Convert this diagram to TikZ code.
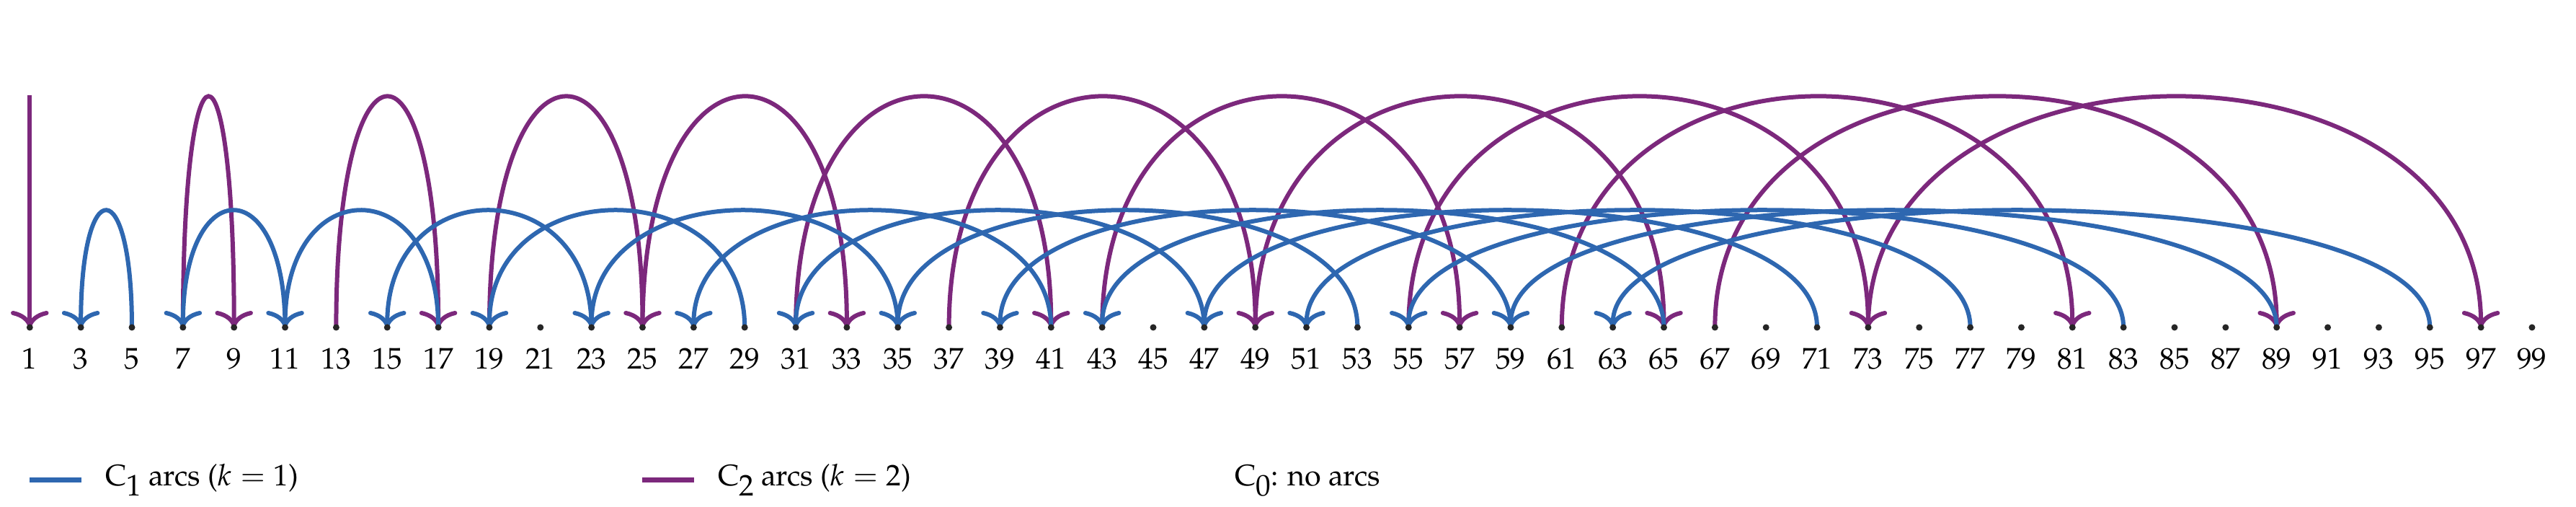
\documentclass[tikz,border=0pt]{standalone}
\usepackage[T1]{fontenc}
\usepackage{mathpazo}
\usetikzlibrary{arrows.meta}
\definecolor{cblue}{RGB}{46,103,176}
\definecolor{cpurple}{RGB}{124,40,124}
\newcommand{\lowsub}[1]{\raisebox{-0.33em}{#1}}
\tikzset{
  arcbase/.style={line width=0.12cm, -{Computer Modern Rightarrow[length=0.46cm,width=1.05cm]}},
  bluearc/.style={arcbase, draw=cblue},
  purplearc/.style={arcbase, draw=cpurple},
  numdot/.style={circle, fill=black!85, minimum size=0.18cm, inner sep=0pt},
  numlabel/.style={anchor=base, inner sep=0pt, font=\fontsize{23.5}{28}\selectfont},
  legline/.style={line width=0.14cm},
  legtext/.style={anchor=base west, inner sep=0pt, font=\fontsize{23.5}{28}\selectfont}
}
\begin{document}
\begin{tikzpicture}[x=1cm,y=1cm]
\useasboundingbox (0,0) rectangle (71.48,14.06);
% positions and labels
\foreach \n in {1,3,...,99} {
  \pgfmathsetmacro\xx{0.826+(\n-1)*0.70850}
  \coordinate (c\n) at (\xx,4.98);
  \node[numlabel] (l\n) at (\xx,3.82) {\n};
}
% C2 arcs (k=2)
\coordinate (top1) at (0.826,11.42);
\draw[purplearc] (top1) -- (c1);
\foreach \n in {9,17,...,97} {
  \pgfmathtruncatemacro\m{(3*\n+1)/4}
  \draw[purplearc] (c\m) .. controls +(0,8.53) and +(0,8.53) .. (c\n);
}
% C1 arcs (k=1)
\foreach \n in {3,7,...,63} {
  \pgfmathtruncatemacro\m{(3*\n+1)/2}
  \draw[bluearc] (c\m) .. controls +(0,4.32) and +(0,4.32) .. (c\n);
}
% dots
\foreach \n in {1,3,...,99} {
  \node[numdot] (d\n) at (c\n) {};
}
% legend
\coordinate (lb1) at (0.82,0.74);
\coordinate (lb2) at (2.254,0.74);
\draw[legline, cblue] (lb1) -- (lb2);
\node[legtext] (tb) at (2.914,0.58) {C\lowsub{1}\ arcs ($k = 1$)};
\coordinate (lp1) at (17.82,0.74);
\coordinate (lp2) at (19.254,0.74);
\draw[legline, cpurple] (lp1) -- (lp2);
\node[legtext] (tp) at (19.914,0.58) {C\lowsub{2}\ arcs ($k = 2$)};
\node[legtext] (t0) at (34.26,0.58) {C\lowsub{0}: no arcs};
\end{tikzpicture}
\end{document}
